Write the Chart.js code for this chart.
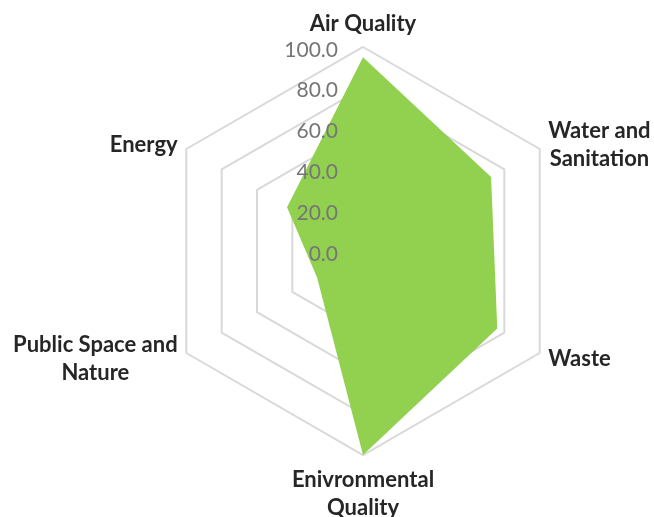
<!DOCTYPE html>
<html>
<head>
<meta charset="utf-8">
<script src="https://cdn.jsdelivr.net/npm/chart.js@4"></script>
<style>
html, body { margin: 0; padding: 0; background: #fff; }
#wrap { width: 654px; height: 517px; }
</style>
</head>
<body>
<div id="wrap"><canvas id="radar"></canvas></div>
<script>
// categorias (etiquetas de varias lineas)
const categorias = [
    ['Air Quality'],
    ['Water and', 'Sanitation'],
    ['Waste'],
    ['Enivronmental', 'Quality'],
    ['Public Space and', 'Nature'],
    ['Energy']
];
const valores = [95, 72.5, 76, 100, 26, 43];
const escala_min = 0;
const escala_max = 100;
const escala_paso = 20;

// etiquetas del eje: a la izquierda del centro, encima del relleno
const etiquetasEje = {
    id: 'etiquetasEje',
    afterDatasetsDraw(chart) {
        let r = chart.scales.r;
        let ctx = chart.ctx;
        ctx.save();
        ctx.font = '21px Lato';
        ctx.fillStyle = '#767676';
        ctx.textAlign = 'right';
        ctx.textBaseline = 'alphabetic';
        r.ticks.forEach(function(t) {
            let d = r.getDistanceFromCenterForValue(t.value);
            ctx.fillText(t.value.toFixed(1), r.xCenter - 25, r.yCenter - d + 9.5);
        });
        ctx.restore();
    }
};

// etiquetas de categoria al estilo Excel (centradas verticalmente a los lados)
const etiquetasCategoria = {
    id: 'etiquetasCategoria',
    afterDatasetsDraw(chart) {
        let r = chart.scales.r;
        let ctx = chart.ctx;
        let alto = 28;
        ctx.save();
        ctx.font = 'bold 22px Lato';
        ctx.fillStyle = '#262626';
        ctx.textAlign = 'center';
        ctx.textBaseline = 'alphabetic';
        chart.data.labels.forEach(function(lineas, i) {
            let p = r.getPointPosition(i, r.drawingArea + 10);
            let n = lineas.length;
            let ancho = 0;
            for (let k = 0; k < n; k++) {
                ancho = Math.max(ancho, ctx.measureText(lineas[k]).width);
            }
            let x = p.x;
            let y0;
            if (Math.abs(p.x - r.xCenter) < 1) {
                if (p.y < r.yCenter) {
                    y0 = p.y - 14.5 - (n - 1) * alto;
                } else {
                    y0 = p.y + 13.5;
                }
            } else {
                x = p.x > r.xCenter ? p.x + ancho / 2 : p.x - ancho / 2;
                y0 = p.y - (n - 1) * alto / 2;
            }
            for (let k = 0; k < n; k++) {
                ctx.fillText(lineas[k], x, y0 + k * alto + 8);
            }
        });
        ctx.restore();
    }
};

let graf_radar = document.getElementById('radar');

let radar = new Chart(graf_radar, {
    type: 'radar',
    data: {
        labels: categorias,
        datasets: [{
            label: 'Serie',
            data: valores,
            backgroundColor: '#92d050',
            borderColor: '#92d050',
            borderWidth: 0,
            pointRadius: 0,
            fill: true
        }]
    },
    options: {
        responsive: true,
        maintainAspectRatio: false,
        animation: false,
        layout: {
            padding: { top: 47, bottom: 62, left: 150, right: 78 }
        },
        plugins: {
            legend: { display: false },
            tooltip: { enabled: false }
        },
        scales: {
            r: {
                min: escala_min,
                max: escala_max,
                ticks: { stepSize: escala_paso, display: false },
                angleLines: { display: false },
                grid: { color: '#d9d9d9', lineWidth: 2 },
                pointLabels: { display: false }
            }
        }
    },
    plugins: [etiquetasEje, etiquetasCategoria]
});
</script>
</body>
</html>
